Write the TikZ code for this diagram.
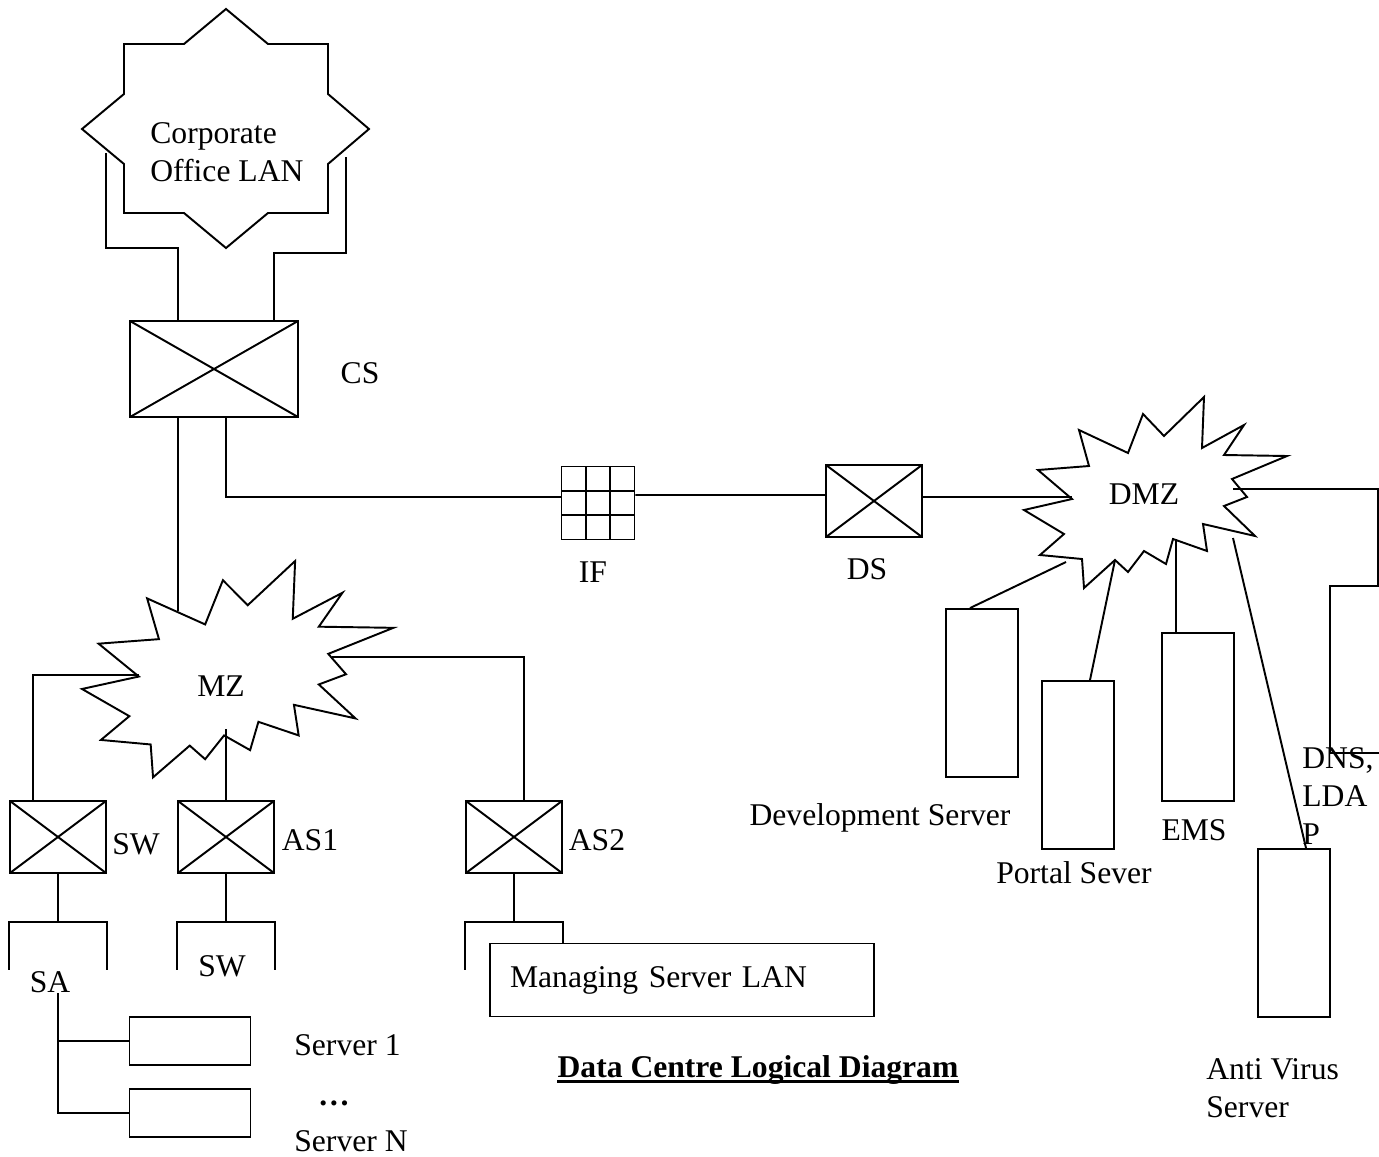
\documentclass[tikz,border=0pt]{standalone}
\usepackage{fontspec}
\setmainfont{Liberation Serif}

% jagged outline used for the two zones
\tikzset{burst/.pic={\draw[line width=1.1pt] (180,0) -- (178,51) -- (220,28) -- (200,58) -- (263,59) -- (208,82) -- (223,100) -- (200,109) -- (231,139) -- (179,127) -- (183,154) -- (149,142) -- (142,167) -- (120,154) -- (104,175) -- (91,163) -- (60,191) -- (58,162) -- (16,158) -- (40,137) -- (0,113) -- (48,102) -- (14,73) -- (65,69) -- (55,33) -- (104,56) -- (119,17) -- (140,39) -- cycle;}}

\begin{document}
\begin{tikzpicture}[x=0.02cm,y=-0.02cm,every node/.style={font=\fontsize{18}{21.6}\selectfont,inner sep=0pt},link/.style={line width=1.1pt},tag/.style={anchor=base},switchbox/.style={draw,link,minimum width=1.92cm,minimum height=1.44cm,path picture={\draw[link] (path picture bounding box.north west) -- (path picture bounding box.south east) (path picture bounding box.south west) -- (path picture bounding box.north east);}},firewall/.style={draw,link,minimum size=1.46cm,path picture={\draw[link] ([xshift=-0.24cm]path picture bounding box.north) -- ([xshift=-0.24cm]path picture bounding box.south) ([xshift=0.24cm]path picture bounding box.north) -- ([xshift=0.24cm]path picture bounding box.south) ([yshift=0.24cm]path picture bounding box.west) -- ([yshift=0.24cm]path picture bounding box.east) ([yshift=-0.24cm]path picture bounding box.west) -- ([yshift=-0.24cm]path picture bounding box.east);}},server/.style={draw,link,minimum width=2.42cm,minimum height=0.96cm},rack/.style={draw,link,minimum width=1.44cm,minimum height=3.36cm},lanbox/.style={draw,link,minimum width=7.68cm,minimum height=1.46cm,text width=6.88cm,inner xsep=0.4cm,align=left}]
\useasboundingbox (0,0) rectangle (1379,1156);
% corporate office star
\draw[link] (226,9) -- (184,44) -- (124,44) -- (124,94) -- (82,129) -- (124,164) -- (124,213) -- (184,213) -- (226,248) -- (268,213) -- (328,213) -- (328,164) -- (369,129) -- (328,94) -- (328,44) -- (268,44) -- cycle;
\node[anchor=north west,align=left] (lan) at (150,122) {Corporate\\Office LAN};
\pic[xscale=1.184,yscale=1.1325] at (82,561) {burst};
\pic at (1024,397) {burst};
\coordinate (lanL) at (106,153);
\coordinate (lanR) at (346,157);
\coordinate (mzN) at (178,611);
\coordinate (mzW) at (139,675);
\coordinate (mzS) at (226,729);
\coordinate (mzE) at (332,657);
\coordinate (dmzW) at (1072,497);
\coordinate (dmzDev) at (1066,562);
\coordinate (dmzPortal) at (1115,560);
\coordinate (dmzEms) at (1176,539);
\coordinate (dmzAv) at (1233,538);
\coordinate (dmzDns) at (1233,489);
\coordinate (dnsEnd) at (1379,753);
\coordinate (saTop) at (58,993);
% switches and firewall
\node[switchbox,minimum width=3.36cm,minimum height=1.92cm] (cs) at (214,369) {};
\node[tag] (csName) at (360,383) {CS};
\node[firewall] (fw) at (598,503) {};
\node[tag] (fwName) at (593,582) {IF};
\node[switchbox] (ds) at (874,501) {};
\node[tag] (dsName) at (867,579) {DS};
\node[tag] (mz) at (221,696) {MZ};
\node[tag] (dmz) at (1144,504) {DMZ};
\node[switchbox] (sw) at (58,837) {};
\node[tag] (swName) at (136,854) {SW};
\node[switchbox] (as1) at (226,837) {};
\node[tag] (as1Name) at (310,850) {AS1};
\node[switchbox] (as2) at (514,837) {};
\node[tag] (as2Name) at (597,850) {AS2};
\node[tag] (sa) at (50,992) {SA};
\node[tag] (swLan) at (222,976) {SW};
% server farm
\node[server] (srv1) at (190,1041) {};
\node[server] (srvN) at (190,1113) {};
\node[tag,anchor=base west] (srv1Name) at (294,1055) {Server 1};
\node[tag] (dots) at (334,1105) {\textbf{\ldots}};
\node[tag,anchor=base west] (srvNName) at (294,1151) {Server N};
\node[lanbox] (msl) at (682,980) {Managing Server LAN};
% DMZ servers
\node[rack] (dev) at (982,693) {};
\node[rack] (portal) at (1078,765) {};
\node[rack] (ems) at (1198,717) {};
\node[rack] (av) at (1294,933) {};
\node[tag] (devName) at (880,825) {Development Server};
\node[tag] (portalName) at (1074,883) {Portal Sever};
\node[tag] (emsName) at (1194,840) {EMS};
\node[anchor=north west,align=left] (dnsName) at (1302,747) {DNS,\\LDA\\P};
\node[anchor=north west,align=left] (avName) at (1206,1058) {Anti Virus\\Server};
\node[tag] (title) at (758,1077) {\textbf{Data Centre Logical Diagram}};
\draw[line width=1.3pt] ([yshift=-2.5pt]title.base west) -- ([yshift=-2.5pt]title.base east);
% links
\draw[link] (lanL) -- ++(0,95) -| ([xshift=-0.72cm]cs.north);
\draw[link] (lanR) -- ++(0,96) -| ([xshift=1.2cm]cs.north);
\draw[link] ([xshift=-0.72cm]cs.south) -- (mzN);
\draw[link] ([xshift=0.24cm]cs.south) |- ([yshift=0.12cm]fw.west);
\draw[link] ([yshift=0.16cm]fw.east) -- ([yshift=0.12cm]ds.west);
\draw[link] (ds.east |- dmzW) -- (dmzW);
\draw[link] (mzW) -| ([xshift=-0.5cm]sw.north);
\draw[link] (mzS) -- (as1.north);
\draw[link] (mzE) -| ([xshift=0.2cm]as2.north);
\draw[link] (sw.south) -- ++(0,48);
\draw[link] ([yshift=-1.92cm]sw.south west) |- ([yshift=-0.96cm]sw.south) -| ([yshift=-1.92cm]sw.south east);
\draw[link] (as1.south) -- ++(0,48);
\draw[link] ([yshift=-1.92cm]as1.south west) |- ([yshift=-0.96cm]as1.south) -| ([yshift=-1.92cm]as1.south east);
\draw[link] (as2.south) -- ++(0,48);
\draw[link] ([yshift=-1.92cm]as2.south west) |- ([yshift=-0.96cm]as2.south) -| (msl.north -| as2.south east);
\draw[link] (saTop) |- (srvN.west);
\draw[link] (srv1.west) -- (srv1.west -| saTop);
\draw[link] (dmzDev) -- ([xshift=-0.24cm]dev.north);
\draw[link] (dmzPortal) -- ([xshift=0.24cm]portal.north);
\draw[link] (dmzEms) -- ([xshift=-0.44cm]ems.north);
\draw[link] (dmzAv) -- ([xshift=0.24cm]av.north);
\draw[link] (dmzDns) -- ++(145,0) -- ++(0,97) -- ++(-48,0) |- (dnsEnd);
\end{tikzpicture}
\end{document}
